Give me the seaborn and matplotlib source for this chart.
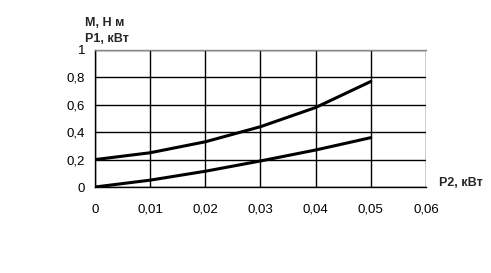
import matplotlib
matplotlib.use("Agg")
import matplotlib.pyplot as plt
import seaborn as sns
import pandas as pd
from matplotlib.ticker import FuncFormatter

p2 = [0.0, 0.01, 0.02, 0.03, 0.04, 0.05]
p1 = [0.20, 0.25, 0.33, 0.44, 0.58, 0.77]
m = [0.0, 0.05, 0.115, 0.19, 0.27, 0.36]
xticks = [0, 0.01, 0.02, 0.03, 0.04, 0.05, 0.06]
yticks = [0, 0.2, 0.4, 0.6, 0.8, 1.0]

sns.set_style("white")
plt.rcParams['font.family'] = ['Liberation Sans', 'DejaVu Sans']

fig = plt.figure(figsize=(4.91, 2.73), dpi=100)
ax = fig.add_axes([0.1935, 0.315, 0.674, 0.502])

df = pd.DataFrame({"P2": p2 + p2, "val": p1 + m,
                   "s": ["P1"] * len(p1) + ["M"] * len(m)})
sns.lineplot(data=df, x="P2", y="val", units="s", estimator=None,
             color="black", linewidth=2.2, ax=ax, legend=False)

ax.set_xlim(0, 0.06)
ax.set_ylim(0, 1)
ax.set_xticks(xticks)
ax.set_yticks(yticks)
fmt = FuncFormatter(lambda v, pos: ("%g" % round(v, 3)).replace(".", ","))
ax.xaxis.set_major_formatter(fmt)
ax.yaxis.set_major_formatter(fmt)
ax.grid(True, color="black", linewidth=1.0)
ax.set_axisbelow(True)
ax.set_xlabel("")
ax.set_ylabel("")
ax.tick_params(axis="both", direction="out", length=4, width=1, color="black",
               labelsize=9.5, colors="black")
ax.tick_params(axis="x", pad=8)
ax.tick_params(axis="y", pad=3)
for side in ["left", "bottom"]:
    ax.spines[side].set_color("black")
    ax.spines[side].set_linewidth(1.0)
ax.spines["top"].set_color("#888888")
ax.spines["right"].set_visible(False)
ax.spines["top"].set_linewidth(1.0)

fig.text(0.173, 0.916, "M, Н м", fontsize=9, fontweight="bold", ha="left", va="center")
fig.text(0.173, 0.857, "P1, кВт", fontsize=9, fontweight="bold", ha="left", va="center")
fig.text(0.984, 0.33, "P2, кВт", fontsize=9, fontweight="bold", ha="right", va="center")

fig.savefig("out.png", dpi=100)
